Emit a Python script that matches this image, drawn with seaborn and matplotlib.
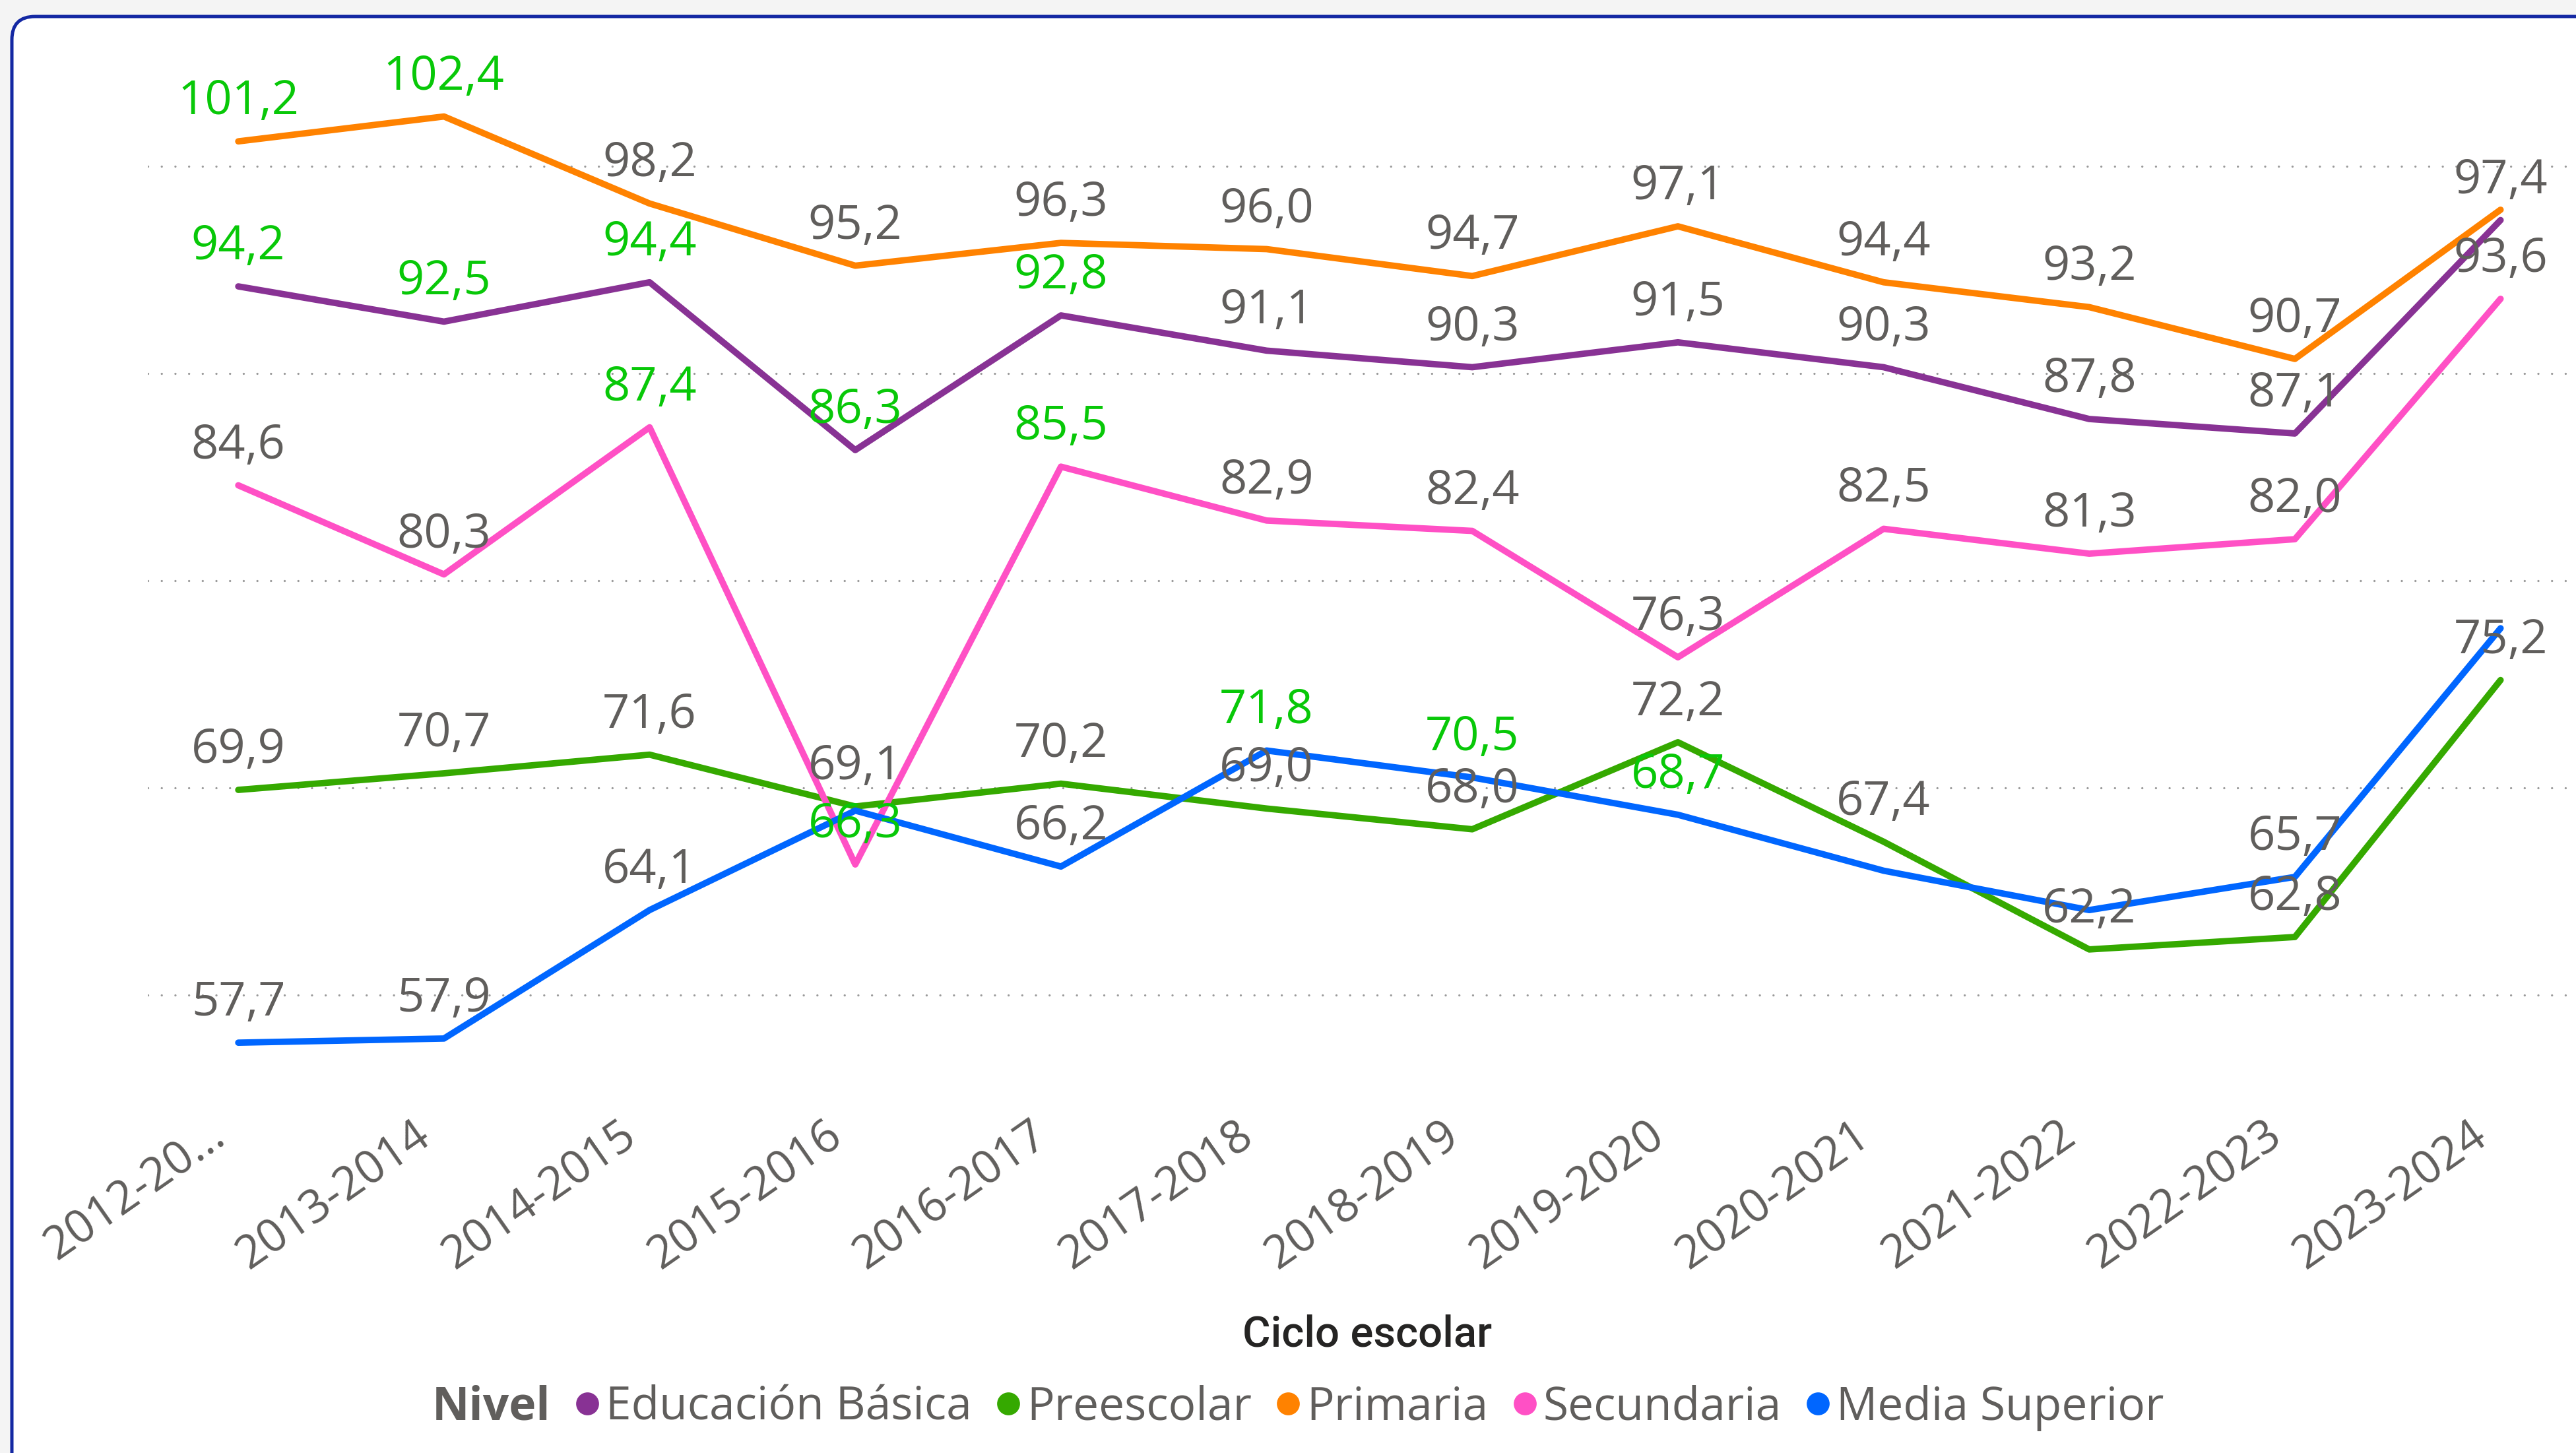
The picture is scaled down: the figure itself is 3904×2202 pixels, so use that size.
import numpy as np
import pandas as pd
import matplotlib
matplotlib.use("Agg")
import matplotlib.pyplot as plt
import seaborn as sns
from matplotlib.lines import Line2D
from matplotlib.patches import FancyBboxPatch
from matplotlib.transforms import ScaledTranslation

# ---------------- data ----------------
cycles = ["2012-2013", "2013-2014", "2014-2015", "2015-2016", "2016-2017", "2017-2018",
          "2018-2019", "2019-2020", "2020-2021", "2021-2022", "2022-2023", "2023-2024"]
tick_labels = ["2012-20...", "2013-2014", "2014-2015", "2015-2016", "2016-2017", "2017-2018",
               "2018-2019", "2019-2020", "2020-2021", "2021-2022", "2022-2023", "2023-2024"]
levels = ["Educación Básica", "Preescolar", "Primaria", "Secundaria", "Media Superior"]

educacion_basica = [94.2, 92.5, 94.4, 86.3, 92.8, 91.1, 90.3, 91.5, 90.3, 87.8, 87.1, 97.4]
preescolar       = [69.9, 70.7, 71.6, 69.1, 70.2, 69.0, 68.0, 72.2, 67.4, 62.2, 62.8, 75.2]
primaria         = [101.2, 102.4, 98.2, 95.2, 96.3, 96.0, 94.7, 97.1, 94.4, 93.2, 90.7, 97.9]
secundaria       = [84.6, 80.3, 87.4, 66.3, 85.5, 82.9, 82.4, 76.3, 82.5, 81.3, 82.0, 93.6]
media_superior   = [57.7, 57.9, 64.1, 68.9, 66.2, 71.8, 70.5, 68.7, 66.0, 64.1, 65.7, 77.7]

series = {
    "Educación Básica": educacion_basica,
    "Preescolar": preescolar,
    "Primaria": primaria,
    "Secundaria": secundaria,
    "Media Superior": media_superior,
}

# ---------------- styles ----------------
palette = {
    "Educación Básica": "#883294",
    "Preescolar": "#35A900",
    "Primaria": "#FF8200",
    "Secundaria": "#FF50C5",
    "Media Superior": "#0066FF",
}
# labels hidden by overlap in the original
hidden_labels = {"Primaria": [11], "Media Superior": [3, 8, 9, 11]}
# labels shown in highlight colour
highlight_labels = {"Primaria": [0, 1], "Educación Básica": [0, 1, 2, 3, 4],
                    "Secundaria": [2, 3, 4], "Media Superior": [5, 6, 7]}
GRAY = "#605E5C"
HIGHLIGHT = "#08C808"

df = pd.DataFrame([
    {"Ciclo escolar": c, "Valor": v, "Nivel": lvl}
    for lvl in levels for c, v in zip(cycles, series[lvl])
])

sns.set_theme(style="white")
plt.rcParams["font.family"] = ["Open Sans", "DejaVu Sans"]

W, H, DPI = 3905, 2202, 100
fig = plt.figure(figsize=(W / DPI, H / DPI), dpi=DPI)
fig.patch.set_facecolor("#F4F4F4")

# card
card = FancyBboxPatch((18 / W, -0.1), 1.2, (H - 25) / H + 0.1,
                      boxstyle="round,pad=0,rounding_size=0.009",
                      mutation_aspect=W / H,
                      transform=fig.transFigure, facecolor="white",
                      edgecolor="#1428A3", linewidth=3.6, zorder=-5)
fig.patches.append(card)

ax = fig.add_axes([224 / W, 0.2439, 1.0 - 224 / W, 0.713])
ax.set_zorder(2)
ax.set_facecolor("none")

sns.lineplot(data=df, x="Ciclo escolar", y="Valor", hue="Nivel", hue_order=levels,
             palette=palette, linewidth=7, sort=False, legend=False, ax=ax)
for ln in ax.lines:
    ln.set_linewidth(7)
    ln.set_solid_capstyle("round")
    ln.set_solid_joinstyle("round")

ax.set_xlim(-0.44, 11.37)
ax.set_ylim(55, 105)
ax.set_yticks([60, 70, 80, 90, 100])
ax.tick_params(axis="y", left=False, labelleft=False)
ax.grid(axis="y", color="#9A9A9A", linewidth=2.4, linestyle=(0, (0.01, 6.2)))
for ln in ax.get_ygridlines():
    ln.set_dash_capstyle("round")
ax.grid(axis="x", visible=False)
for s in ax.spines.values():
    s.set_visible(False)

ax.set_xticks(range(len(cycles)))
ax.set_xticklabels(tick_labels, rotation=35, ha="right", va="top",
                   rotation_mode="anchor", color=GRAY, fontsize=50)
ax.tick_params(axis="x", bottom=False, pad=9)
off = ScaledTranslation(-0.47, 0, fig.dpi_scale_trans)
for lab in ax.get_xticklabels():
    lab.set_transform(lab.get_transform() + off)
ax.set_xlabel("")
ax.set_ylabel("")

# data labels
for lvl in levels:
    vals = series[lvl]
    for i, v in enumerate(vals):
        if i in hidden_labels.get(lvl, []):
            continue
        col = HIGHLIGHT if i in highlight_labels.get(lvl, []) else GRAY
        ax.annotate(f"{v:.1f}".replace(".", ","), (i, v), xytext=(0, 29.5),
                    textcoords="offset points", ha="center", va="baseline",
                    fontsize=52, color=col, zorder=10, annotation_clip=False)

# axis title
fig.text(0.5306, 0.0817, "Ciclo escolar", ha="center", va="center",
         fontsize=47, fontweight="medium", color="#252423",
         family=["Roboto", "DejaVu Sans"])

# legend
handles = [Line2D([], [], linestyle="none", marker="o", markersize=0, color="white")]
labels = ["Nivel"]
for lvl in levels:
    handles.append(Line2D([], [], linestyle="none", marker="o", markersize=25,
                          markerfacecolor=palette[lvl], markeredgewidth=0))
    labels.append(lvl)
leg = fig.legend(handles, labels, ncol=6, loc="center", bbox_to_anchor=(0.498, 0.031),
                 frameon=False, fontsize=50, handlelength=0.5, handletextpad=0.15,
                 columnspacing=0.55, borderpad=0)
for t in leg.get_texts():
    t.set_color(GRAY)
leg.get_texts()[0].set_fontweight("bold")

fig.savefig("out.png", dpi=DPI, facecolor=fig.get_facecolor())
